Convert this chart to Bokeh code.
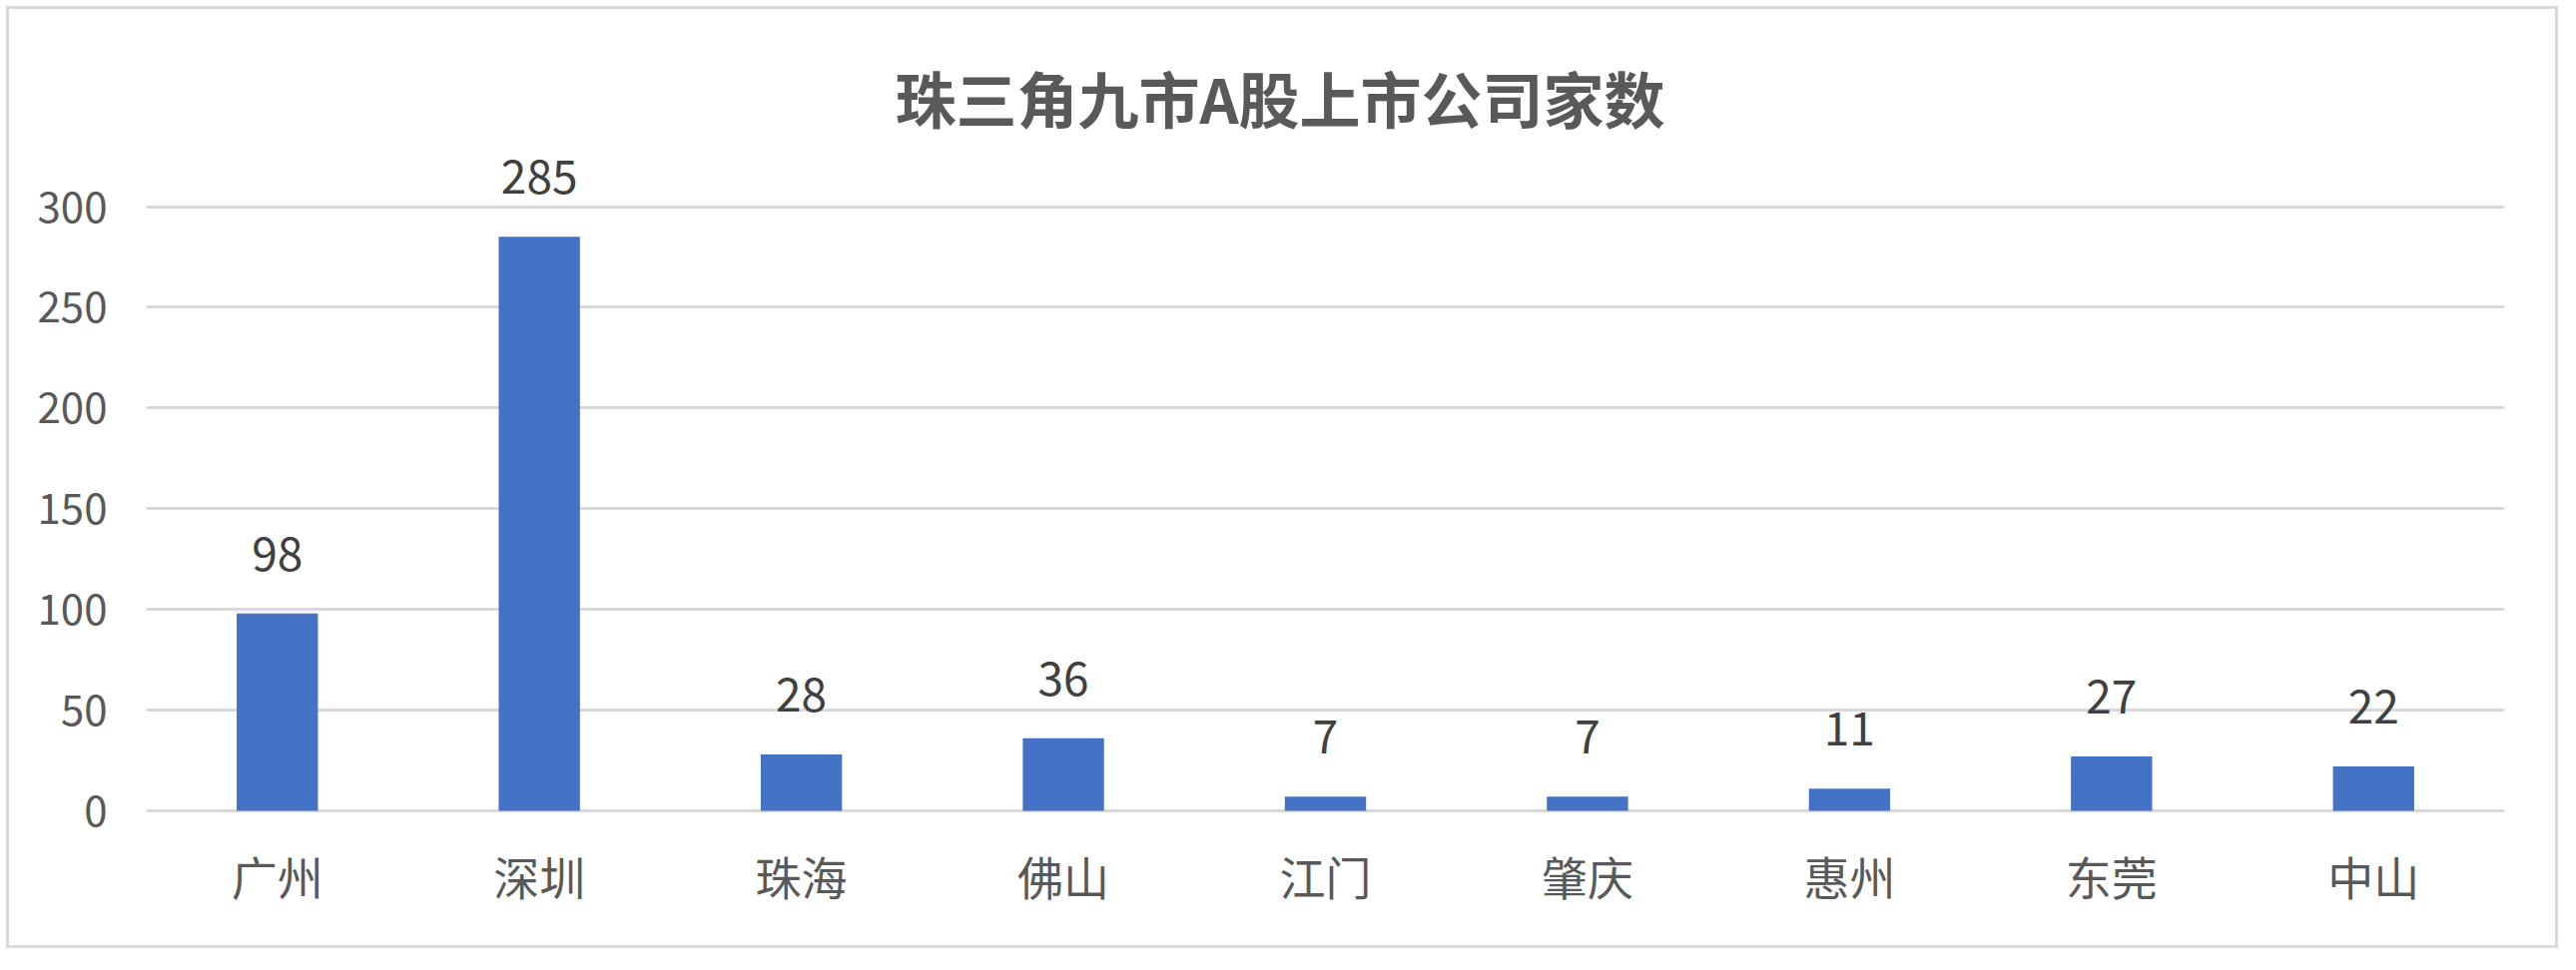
from bokeh.plotting import figure
from bokeh.layouts import row, column
from bokeh.models import (ColumnDataSource, LabelSet, FactorRange, Range1d,
                          FixedTicker, Spacer)
from bokeh.core.properties import value
from bokeh.embed import file_html
from bokeh.resources import INLINE

cities = ["广州", "深圳", "珠海", "佛山", "江门", "肇庆", "惠州", "东莞", "中山"]
counts = [98, 285, 28, 36, 7, 7, 11, 27, 22]
y_ticks = [0, 50, 100, 150, 200, 250, 300]
title_text = "珠三角九市A股上市公司家数"

FONT = "Noto Sans CJK SC"

src = ColumnDataSource(dict(city=cities, count=counts, label=[str(c) for c in counts]))

p = figure(x_range=FactorRange(factors=cities, range_padding=0),
           y_range=Range1d(-2, 332),
           width=2556, height=944, output_backend="svg", toolbar_location=None,
           title=title_text)
p.styles = {"border": "3px solid #d9d9d9", "box-sizing": "border-box"}
p.min_border_left = 137
p.min_border_right = 57
p.min_border_top = 133
p.min_border_bottom = 137
p.outline_line_color = None
p.background_fill_color = "white"
p.border_fill_color = "white"

p.vbar(x="city", top="count", width=0.31, source=src,
       fill_color="#4472C4", line_color=None)

labels = LabelSet(x="city", y="count", text="label", source=src,
                  text_align="center", text_baseline="alphabetic", y_offset=43,
                  text_font_size="46px", text_color="#404040",
                  text_font=value(FONT))
p.add_layout(labels)

p.title.text_font = FONT
p.title.text_font_size = "61px"
p.title.text_font_style = "bold"
p.title.text_color = "#595959"
p.title.align = "left"
p.title.offset = 750
p.title.standoff = 2

p.xgrid.grid_line_color = None
p.ygrid.grid_line_color = "#d9d9d9"
p.ygrid.grid_line_width = 3
p.yaxis.ticker = FixedTicker(ticks=y_ticks)

for ax in (p.xaxis[0], p.yaxis[0]):
    ax.axis_line_color = None
    ax.major_tick_line_color = None
    ax.minor_tick_line_color = None
    ax.major_tick_out = 0
    ax.major_tick_in = 0
    ax.major_label_text_font = FONT
    ax.major_label_text_color = "#595959"

p.yaxis.major_label_text_font_size = "42px"
p.yaxis.major_label_standoff = 39
p.xaxis.major_label_text_font_size = "46px"
p.xaxis.major_label_standoff = 27

layout = row(Spacer(width=6, height=950),
             column(Spacer(width=2556, height=6), p))

open("out.html", "w").write(file_html(layout, INLINE))
